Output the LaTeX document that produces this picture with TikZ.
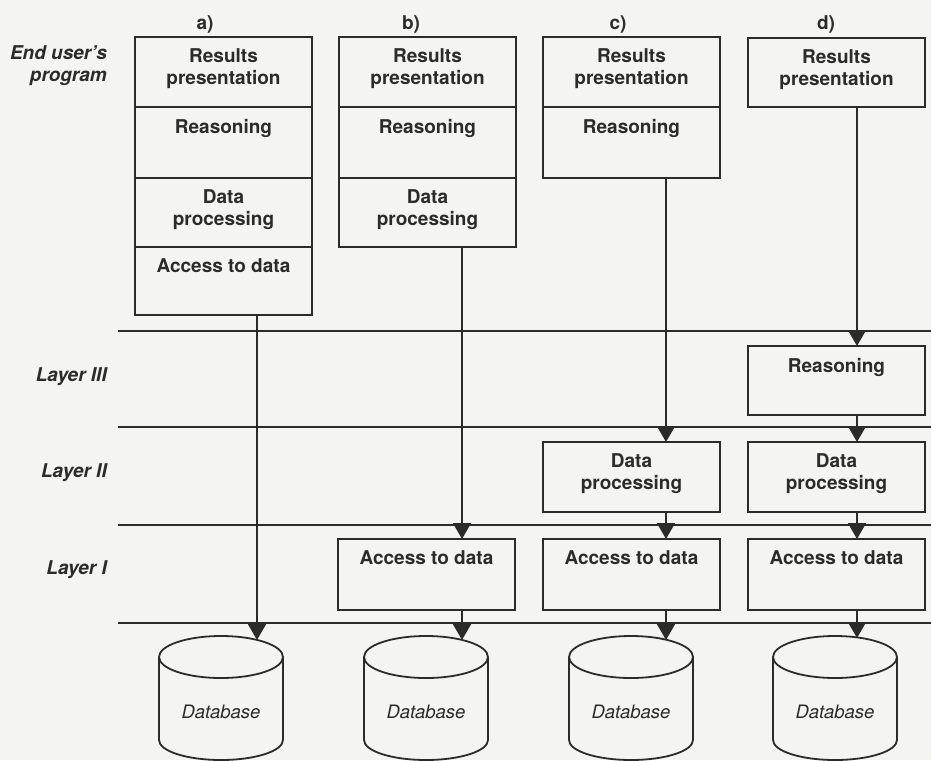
\documentclass[tikz,border=0pt]{standalone}
\usepackage{fontspec}
\setmainfont{TeX Gyre Heros}
\usetikzlibrary{arrows.meta}
\definecolor{ink}{HTML}{2B2B2B}
\definecolor{paper}{HTML}{F4F4F2}
\newcommand{\boxtxt}[2][70]{\parbox[c][#1pt][t]{177pt}{\centering\vspace*{12pt}#2}}
\tikzset{
  sect/.style={draw=ink, fill=paper, line width=2pt, inner sep=0pt, outer sep=0pt,
    anchor=north west, text=ink, font=\fontsize{19}{22}\selectfont\bfseries},
  arr/.style={draw=ink, line width=1.8pt, -{Triangle[width=18pt,length=16pt]}},
  layerline/.style={draw=ink, line width=1.8pt},
  side/.style={anchor=east, text=ink, font=\fontsize{19}{22}\selectfont\bfseries\itshape,
    align=right, inner sep=0pt},
  tag/.style={text=ink, font=\fontsize{19}{22}\selectfont\bfseries, inner sep=0pt},
  dbt/.style={text=ink, font=\fontsize{18.5}{22}\selectfont\itshape, inner sep=0pt},
  cyl/.style={draw=ink, line width=1.8pt},
}
\begin{document}
\begin{tikzpicture}[x=1pt,y=-1pt]
\fill[paper] (0,0) rectangle (931,760);
\useasboundingbox (0,0) rectangle (931,760);

% layer lines
\foreach \yy in {331,427,525,623}
  \draw[layerline] (118,\yy) -- (931,\yy);

% side labels
\node[side] (eup) at (107,66) {End user's\\program};
\node[side] (l3) at (107,377) {Layer III};
\node[side] (l2) at (107,473) {Layer II};
\node[side] (l1) at (107,570) {Layer I};

% column tags
\node[tag] (ta) at (205,24) {a)};
\node[tag] (tb) at (411,24) {b)};
\node[tag] (tc) at (618,24) {c)};
\node[tag] (td) at (826,24) {d)};

% column a
\node[sect] (a1) at (135,37)  {\boxtxt[70]{Results\\presentation}};
\node[sect] (a2) at (135,107) {\boxtxt[71]{Reasoning}};
\node[sect] (a3) at (135,178) {\boxtxt[69]{Data\\processing}};
\node[sect] (a4) at (135,247) {\boxtxt[68]{Access to data}};
% column b
\node[sect] (b1) at (339,37)  {\boxtxt[70]{Results\\presentation}};
\node[sect] (b2) at (339,107) {\boxtxt[71]{Reasoning}};
\node[sect] (b3) at (339,178) {\boxtxt[69]{Data\\processing}};
\node[sect] (b4) at (338,539) {\boxtxt[71]{Access to data}};
% column c
\node[sect] (c1) at (543,37)  {\boxtxt[70]{Results\\presentation}};
\node[sect] (c2) at (543,107) {\boxtxt[71]{Reasoning}};
\node[sect] (c3) at (543,442) {\boxtxt[70]{Data\\processing}};
\node[sect] (c4) at (543,539) {\boxtxt[71]{Access to data}};
% column d
\node[sect] (d1) at (748,38)  {\boxtxt[69]{Results\\presentation}};
\node[sect] (d2) at (748,346) {\boxtxt[69]{Reasoning}};
\node[sect] (d3) at (748,442) {\boxtxt[70]{Data\\processing}};
\node[sect] (d4) at (748,539) {\boxtxt[71]{Access to data}};

% databases
\foreach \cx/\nm in {221/dba,426/dbb,631/dbc,835/dbd}{
  \draw[cyl] (\cx,657) ellipse [x radius=62, y radius=21];
  \draw[cyl] (\cx-62,657) -- (\cx-62,740) arc[start angle=180, end angle=0, x radius=62, y radius=20] -- (\cx+62,657);
  \node[dbt] (\nm) at (\cx,712) {Database};
}
\coordinate (dbaT) at (257,640);
\coordinate (dbbT) at (462,640);
\coordinate (dbcT) at (666,640);
\coordinate (dbdT) at (857,638);

% connector columns
\coordinate (xa) at (257,0);
\coordinate (xb) at (462,0);
\coordinate (xc) at (666,0);
\coordinate (xd) at (857,0);

\draw[arr] (a4.south -| xa) -- (dbaT);
\draw[arr] (b3.south -| xb) -- (b4.north -| xb);
\draw[arr] (b4.south -| xb) -- (dbbT);
\draw[arr] (c2.south -| xc) -- (c3.north -| xc);
\draw[arr] (c3.south -| xc) -- (c4.north -| xc);
\draw[arr] (c4.south -| xc) -- (dbcT);
\draw[arr] (d1.south -| xd) -- (d2.north -| xd);
\draw[arr] (d2.south -| xd) -- (d3.north -| xd);
\draw[arr] (d3.south -| xd) -- (d4.north -| xd);
\draw[arr] (d4.south -| xd) -- (dbdT);
\end{tikzpicture}
\end{document}
